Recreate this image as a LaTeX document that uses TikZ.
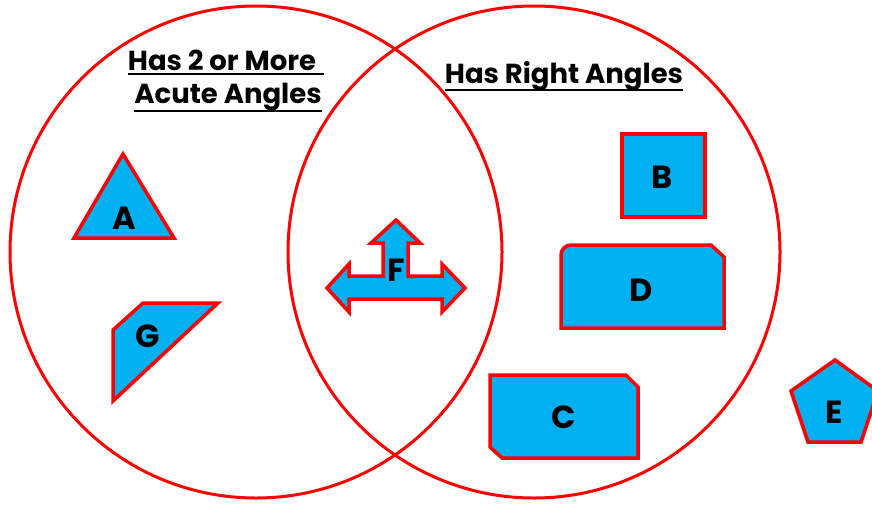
\documentclass[tikz,border=0pt]{standalone}
\usepackage{fontspec}
\setmainfont{Poppins}
\usetikzlibrary{positioning}
\definecolor{shapeblue}{HTML}{00B0F0}
\definecolor{ringred}{HTML}{FF0000}

\begin{document}
\begin{tikzpicture}[
  x=1pt,y=-1pt,
  ring/.style={draw=ringred,line width=3pt},
  shp/.style={draw=ringred,fill=shapeblue,line width=3.5pt,line join=miter},
  lbl/.style={font=\bfseries\fontsize{32}{34}\selectfont,inner sep=0pt},
  head/.style={font=\bfseries\fontsize{27.5}{30}\selectfont,inner sep=0pt,anchor=base},
  uline/.style={draw=black,line width=2pt}
]
  \useasboundingbox (0,0) rectangle (872,504);
  % the two sets
  \draw[ring] (256,252) circle[radius=246pt];
  \draw[ring] (534,252) circle[radius=246pt];
  \node[head] (hasmore) at (222,70) {Has 2 or More};
  \node[head] (acute) at (228,103) {Acute Angles};
  \node[head] (right) at (564,83) {Has Right Angles};
  \draw[uline] ([yshift=-4pt]hasmore.base west) -- ([yshift=-4pt,xshift=8pt]hasmore.base east);
  \draw[uline] ([yshift=-8pt]acute.base west) -- ([yshift=-8pt]acute.base east);
  \draw[uline] ([yshift=-7pt]right.base west) -- ([yshift=-7pt]right.base east);

  % shapes
  \draw[shp] (123,154) -- (174,238) -- (74,238) -- cycle;
  \node[lbl] (a) at (124,218) {A};
  \draw[shp] (113,330) -- (143,303) -- (218,303) -- (113,401) -- cycle;
  \node[lbl] (g) at (148,336) {G};
  \draw[shp] (396,220) -- (420,243) -- (408,243) -- (408,276) -- (442,276)
    -- (442,264) -- (465,288) -- (442,312) -- (442,299) -- (349,299)
    -- (349,312) -- (327,288) -- (349,264) -- (349,276) -- (383,276)
    -- (383,243) -- (371,243) -- cycle;
  \node[lbl] (f) at (396,270) {F};
  \draw[shp] (622,134) rectangle (705,217);
  \node[lbl] (b) at (662,177) {B};
  \draw[shp] (561,328) -- (561,255) [rounded corners=10pt] -- (561,245) [sharp corners] -- (711,245)
    -- (724,257) -- (724,328) -- cycle;
  \node[lbl] (d) at (641,290) {D};
  \draw[shp] (490,375) -- (626,375) -- (638,387) -- (638,458) -- (502,458)
    -- (490,447) -- cycle;
  \node[lbl] (c) at (564,417) {C};
  \draw[shp] (835,360) -- (878,391) -- (861,442) -- (808,442) -- (791,391) -- cycle;
  \node[lbl] (e) at (834,412) {E};
\end{tikzpicture}
\end{document}
